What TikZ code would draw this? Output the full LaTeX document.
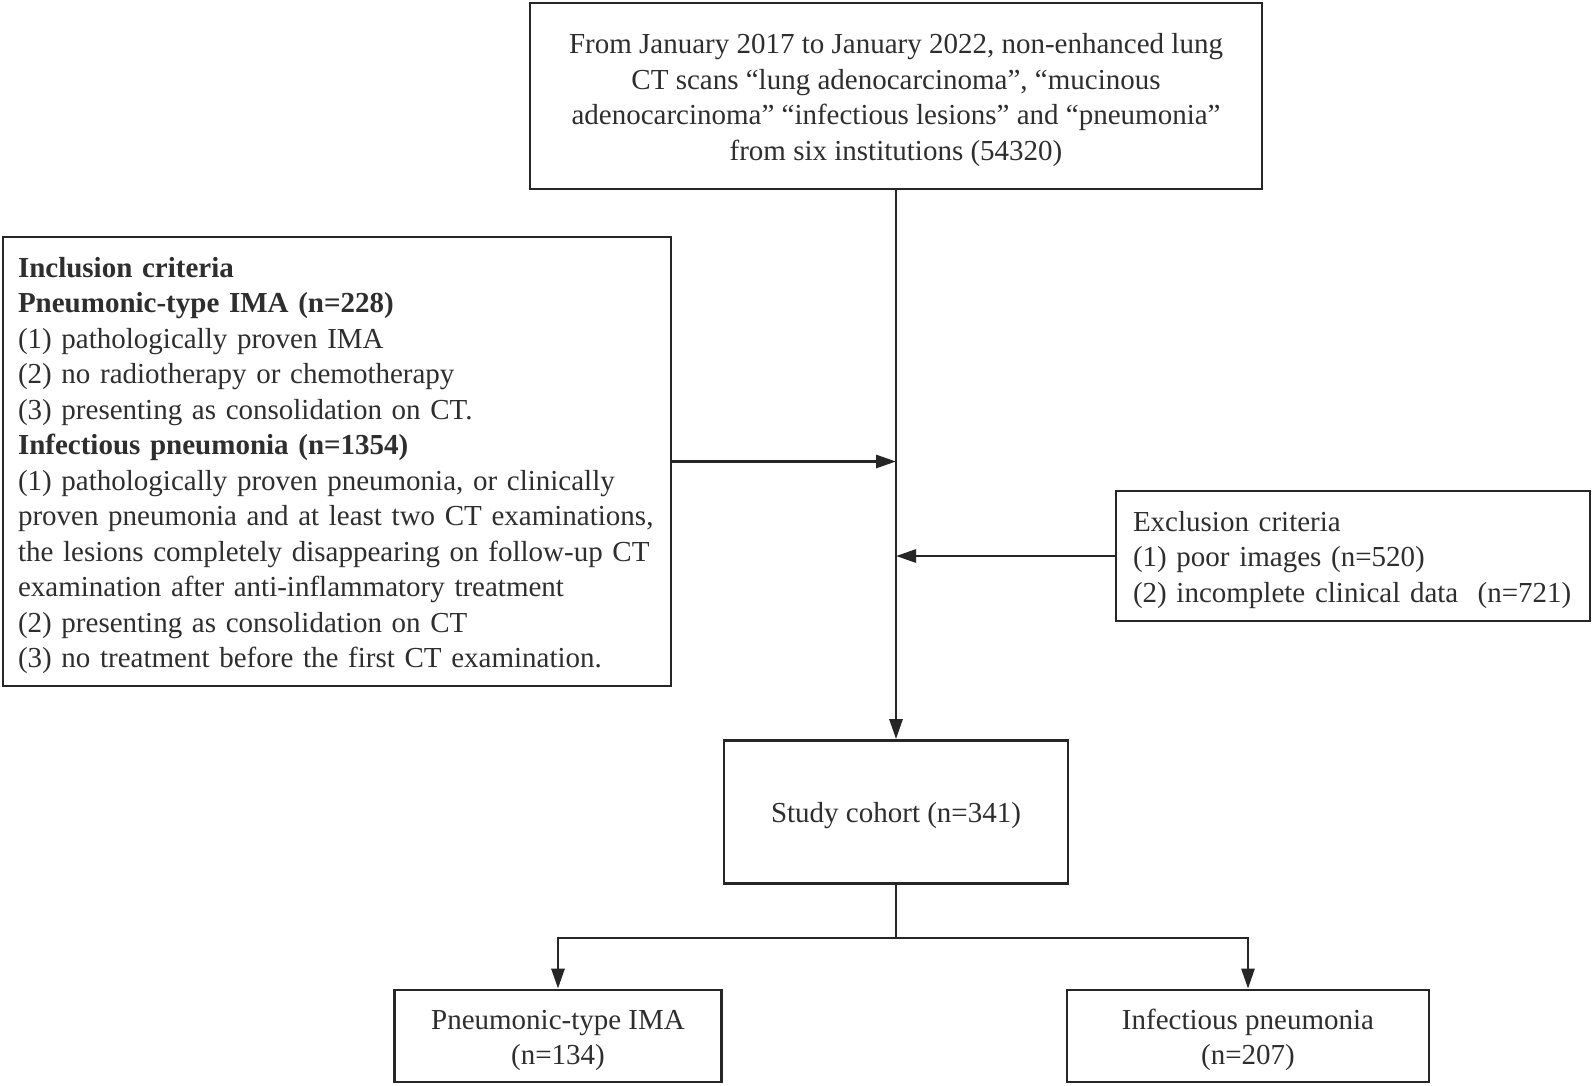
\documentclass[tikz,border=0pt]{standalone}
\usepackage{fontspec}
\setmainfont{Liberation Serif}
\usetikzlibrary{arrows.meta}
\definecolor{ln}{HTML}{262626}
\definecolor{tx}{HTML}{2E2E2E}
\newcommand\mytstrut{\rule{0pt}{28pt}}
\begin{document}
\begin{tikzpicture}[x=1pt,y=-1pt,
  box/.style={draw=ln, line width=2.8pt, rectangle, inner sep=0pt, text=tx,
    font=\fontsize{29}{35.5}\selectfont},
  arr/.style={draw=ln, line width=2.8pt, -{Triangle[length=20pt,width=13pt]}},
  con/.style={draw=ln, line width=2.8pt}]
\path[use as bounding box, fill=white] (0,0) rectangle (1594,1085);

\node[box, minimum width=732, minimum height=186, align=center] (top) at (896,96)
  {\mytstrut From January 2017 to January 2022, non-enhanced lung\\
   CT scans “lung adenocarcinoma”, “mucinous\\
   adenocarcinoma” “infectious lesions” and “pneumonia”\\
   from six institutions (54320)};

\node[box, minimum width=668, minimum height=449, text width=638, inner xsep=15pt, align=left] (incl) at (337,461.5)
  {\mytstrut\textbf{Inclusion criteria}\\
   \textbf{Pneumonic-type IMA (n=228)}\\
   (1) pathologically proven IMA\\
   (2) no radiotherapy or chemotherapy\\
   (3) presenting as consolidation on CT.\\
   \textbf{Infectious pneumonia (n=1354)}\\
   (1) pathologically proven pneumonia, or clinically\\
   proven pneumonia and at least two CT examinations,\\
   the lesions completely disappearing on follow-up CT\\
   examination after anti-inflammatory treatment\\
   (2) presenting as consolidation on CT\\
   (3) no treatment before the first CT examination.};

\node[box, minimum width=474, minimum height=130, text width=440, inner xsep=17pt, align=left] (excl) at (1353,556)
  {\mytstrut Exclusion criteria\\
   (1) poor images (n=520)\\
   (2) incomplete clinical data~~(n=721)};

\node[box, minimum width=344, minimum height=143, align=center] (study) at (896,812)
  {\mytstrut Study cohort (n=341)};

\node[box, minimum width=327, minimum height=92, align=center] (ima) at (558,1036)
  {\mytstrut Pneumonic-type IMA\\(n=134)};

\node[box, minimum width=362, minimum height=92, align=center] (inf) at (1248,1036)
  {\mytstrut Infectious pneumonia\\(n=207)};

\coordinate (br) at (896,938);

\draw[arr] (top.south) -- (study.north);
\draw[arr] (incl.east) -- (incl.east -| top.south);
\draw[arr] (excl.west) -- (excl.west -| top.south);
\draw[con] (study.south) -- (br);
\draw[arr] (br) -| (ima.north);
\draw[arr] (br) -| (inf.north);
\end{tikzpicture}
\end{document}
